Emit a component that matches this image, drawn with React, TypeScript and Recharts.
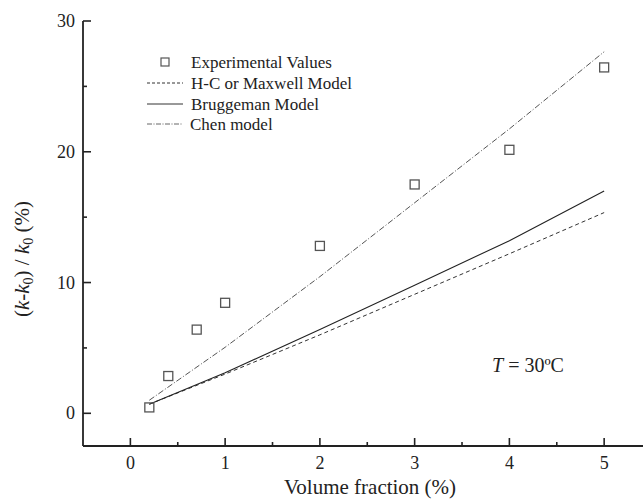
import React from 'react';
import { ComposedChart, Line, Scatter, XAxis, YAxis, Customized } from 'recharts';

const modelX = [0.2, 1, 2, 3, 4, 5];
const hcValues = [0.7, 3.0, 6.0, 9.1, 12.2, 15.35];
const bruggemanValues = [0.7, 3.1, 6.4, 9.8, 13.2, 17.0];
const chenValues = [1.0, 5.05, 10.45, 16.1, 21.75, 27.65];

const expX = [0.2, 0.4, 0.7, 1, 2, 3, 4, 5];
const expY = [0.45, 2.85, 6.4, 8.45, 12.8, 17.5, 20.15, 26.45];

const xTicks = [0, 0.5, 1, 1.5, 2, 2.5, 3, 3.5, 4, 4.5, 5];
const yTicks = [0, 5, 10, 15, 20, 25, 30];

const legendLabels = ['Experimental Values', 'H-C or Maxwell Model', 'Bruggeman Model', 'Chen model'];

const lineData = modelX.map((x, i) => ({ x, hc: hcValues[i], br: bruggemanValues[i], chen: chenValues[i] }));
const expData = expX.map((x, i) => ({ x, y: expY[i] }));

const FONT = '"Liberation Serif", "DejaVu Serif", serif';
const INK = '#222';

const XTick = (props: any) => {
  const { x, y, payload } = props;
  const v = payload.value;
  const major = Number.isInteger(v);
  return (
    <g>
      <line x1={x} x2={x} y1={y} y2={y - (major ? 8 : 4)} stroke={INK} strokeWidth={1.6} />
      {major && (
        <text x={x} y={y + 23} textAnchor="middle" fontSize={18} fontFamily={FONT} fill={INK}>
          {v}
        </text>
      )}
    </g>
  );
};

const YTick = (props: any) => {
  const { x, y, payload } = props;
  const v = payload.value;
  const major = v % 10 === 0;
  return (
    <g>
      <line x1={x} x2={x + (major ? 8 : 4)} y1={y} y2={y} stroke={INK} strokeWidth={1.6} />
      {major && (
        <text x={x - 8} y={y + 6} textAnchor="end" fontSize={18} fontFamily={FONT} fill={INK}>
          {v}
        </text>
      )}
    </g>
  );
};

const SquareShape = (props: any) => {
  const { cx, cy } = props;
  if (cx == null || cy == null) return null;
  return <rect x={cx - 4.5} y={cy - 4.5} width={9} height={9} fill="none" stroke="#555" strokeWidth={1.3} />;
};

const Overlay = () => {
  const rows = [62, 83, 104, 124];
  return (
    <g fontFamily={FONT} fill={INK}>
      {/* legend */}
      <rect x={161} y={rows[0] - 4} width={8} height={8} fill="none" stroke="#555" strokeWidth={1.2} />
      <line x1={147} x2={183} y1={rows[1]} y2={rows[1]} stroke="#333" strokeWidth={1} strokeDasharray="3 2" />
      <line x1={147} x2={183} y1={rows[2]} y2={rows[2]} stroke="#333" strokeWidth={1} />
      <line x1={147} x2={183} y1={rows[3]} y2={rows[3]} stroke="#666" strokeWidth={1} strokeDasharray="5 1.5 1 1.5" />
      {legendLabels.map((t, i) => (
        <text key={t} x={i === 3 ? 190 : 191} y={rows[i] + 5.5} fontSize={17}>
          {t}
        </text>
      ))}
      {/* annotation */}
      <text x={492} y={372} fontSize={20}>
        <tspan fontStyle="italic">T</tspan>
        <tspan> = 30ºC</tspan>
      </text>
      {/* axis titles */}
      <text x={370} y={494} textAnchor="middle" fontSize={21}>
        Volume fraction (%)
      </text>
      <text x={29} y={259} textAnchor="middle" fontSize={21} transform="rotate(-90, 29, 259)">
        <tspan>(</tspan>
        <tspan fontStyle="italic">k</tspan>
        <tspan>-</tspan>
        <tspan fontStyle="italic">k</tspan>
        <tspan fontSize={14} dy={4}>0</tspan>
        <tspan dy={-4}>) / </tspan>
        <tspan fontStyle="italic">k</tspan>
        <tspan fontSize={14} dy={4}>0</tspan>
        <tspan dy={-4}> (%)</tspan>
      </text>
    </g>
  );
};

export default function App() {
  return (
    <div style={{ position: 'absolute', left: 0, top: 0, width: 643, height: 500, background: '#fff' }}>
      <ComposedChart width={643} height={500} data={lineData} margin={{ top: 21, right: 0, bottom: 0, left: 0 }}>
        <XAxis
          xAxisId="b"
          dataKey="x"
          type="number"
          domain={[-0.5, 5.41]}
          ticks={xTicks}
          interval={0}
          allowDataOverflow
          height={54}
          tickSize={0}
          tickMargin={0}
          tickLine={false}
          tick={<XTick />}
          axisLine={{ stroke: INK, strokeWidth: 1.8 }}
        />
        <XAxis
          xAxisId="t"
          orientation="top"
          dataKey="x"
          type="number"
          domain={[-0.5, 5.41]}
          allowDataOverflow
          height={0}
          tick={false}
          tickLine={false}
          axisLine={{ stroke: INK, strokeWidth: 1.8 }}
        />
        <YAxis
          yAxisId="l"
          type="number"
          domain={[-2.5, 30]}
          ticks={yTicks}
          interval={0}
          allowDataOverflow
          width={83}
          tickSize={0}
          tickMargin={0}
          tickLine={false}
          tick={<YTick />}
          axisLine={{ stroke: INK, strokeWidth: 1.8 }}
        />
        <Line xAxisId="b" yAxisId="l" dataKey="hc" stroke="#333" strokeWidth={1} strokeDasharray="4 3" dot={false} isAnimationActive={false} />
        <Line xAxisId="b" yAxisId="l" dataKey="br" stroke="#222" strokeWidth={1.1} dot={false} isAnimationActive={false} />
        <Line xAxisId="b" yAxisId="l" dataKey="chen" stroke="#555" strokeWidth={1} strokeDasharray="6 2 1 2" dot={false} isAnimationActive={false} />
        <Scatter xAxisId="b" yAxisId="l" data={expData} dataKey="y" shape={<SquareShape />} isAnimationActive={false} />
        <Customized component={Overlay} />
      </ComposedChart>
    </div>
  );
}
